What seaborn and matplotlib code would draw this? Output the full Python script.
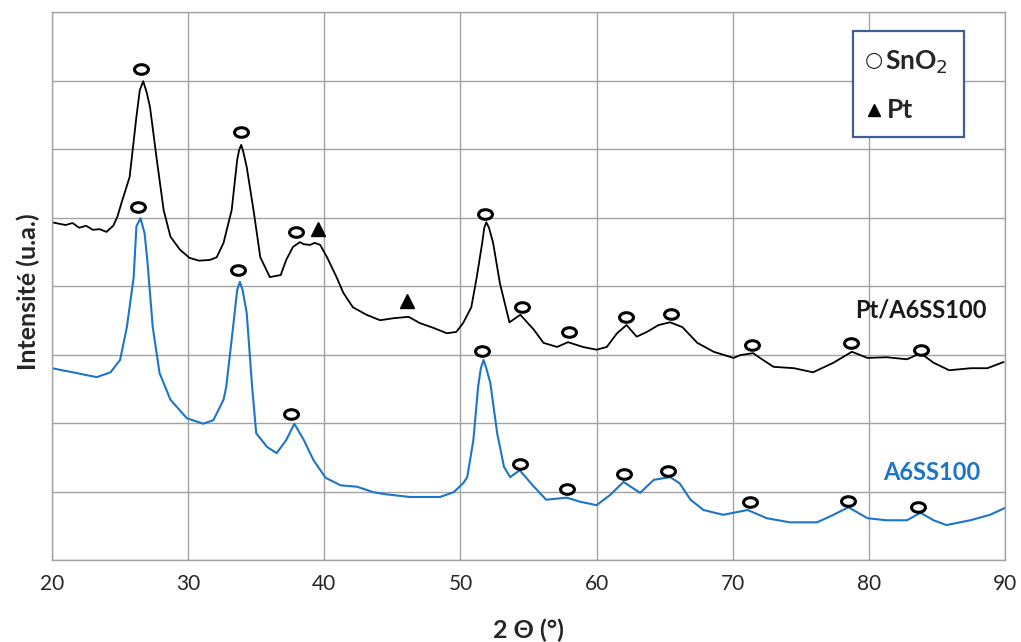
import matplotlib
matplotlib.use("Agg")
import matplotlib.pyplot as plt
import seaborn as sns
import pandas as pd
from matplotlib.path import Path
from matplotlib.markers import MarkerStyle
from matplotlib.transforms import Affine2D
from matplotlib.patches import Rectangle

# Pt/A6SS100 pattern (black)
pt_x = [20.0, 20.5, 21.0, 21.5, 22.0, 22.5, 23.0, 23.5, 24.0, 24.5, 24.8, 25.1, 25.7, 26.2,
        26.45, 26.7, 26.95, 27.2, 27.7, 28.2, 28.7, 29.4, 30.1, 30.8, 31.6, 32.1, 32.6, 33.2,
        33.6, 33.75, 33.9, 34.05, 34.3, 34.8, 35.3, 36.0, 36.8, 37.2, 37.7, 38.2, 38.5, 38.96,
        39.3, 39.7, 40.2, 40.9, 41.4, 42.1, 43.1, 44.1, 45.1, 46.2, 47.0, 48.0, 49.0, 49.7,
        50.2, 50.8, 51.2, 51.6, 51.75, 51.9, 52.1, 52.4, 52.9, 53.6, 54.4, 55.4, 56.1, 57.1,
        57.9, 59.0, 60.0, 60.75, 61.5, 62.2, 62.95, 63.7, 64.55, 65.4, 66.3, 67.4, 68.6,
        70.06, 70.55, 71.5, 72.0, 73.0, 74.5, 75.9, 77.4, 78.75, 79.9, 81.3, 82.8, 83.8,
        84.75, 85.9, 87.5, 88.7, 89.9]
pt_y = [4.93, 4.91, 4.89, 4.92, 4.85, 4.88, 4.82, 4.83, 4.79, 4.88, 5.01, 5.21, 5.59, 6.47,
        6.86, 6.99, 6.83, 6.61, 5.84, 5.11, 4.72, 4.53, 4.41, 4.37, 4.38, 4.42, 4.63, 5.11,
        5.84, 5.99, 6.06, 5.96, 5.74, 5.11, 4.42, 4.13, 4.16, 4.38, 4.57, 4.64, 4.61, 4.60,
        4.63, 4.60, 4.42, 4.13, 3.90, 3.69, 3.58, 3.50, 3.53, 3.55, 3.46, 3.39, 3.31, 3.33,
        3.46, 3.69, 4.13, 4.63, 4.85, 4.93, 4.85, 4.63, 4.04, 3.47, 3.58, 3.36, 3.17, 3.11,
        3.18, 3.11, 3.07, 3.11, 3.31, 3.43, 3.26, 3.33, 3.43, 3.47, 3.40, 3.17, 3.04,
        2.95, 2.99, 3.02, 2.95, 2.82, 2.80, 2.74, 2.88, 3.04, 2.95, 2.96, 2.93, 3.02,
        2.88, 2.77, 2.80, 2.80, 2.89]

# A6SS100 pattern (blue)
a6_x = [20.0, 21.0, 21.8, 22.5, 23.3, 24.3, 25.0, 25.5, 26.0, 26.2, 26.5, 26.8, 27.0, 27.4,
        27.9, 28.7, 29.9, 31.1, 31.85, 32.6, 32.8, 33.3, 33.6, 33.8, 34.0, 34.3, 34.7, 35.0,
        35.8, 36.5, 37.2, 37.8, 38.5, 39.2, 40.1, 41.2, 42.4, 43.6, 44.5, 46.3, 48.5, 49.5,
        50.2, 50.5, 50.95, 51.3, 51.5, 51.7, 51.9, 52.2, 52.7, 53.2, 53.65, 54.35, 55.4, 56.3,
        57.8, 58.8, 60.0, 61.0, 61.98, 63.2, 64.2, 65.4, 66.1, 66.9, 67.85, 69.3, 71.1, 72.5,
        74.2, 76.2, 77.4, 78.5, 79.9, 81.3, 82.8, 83.8, 84.75, 85.7, 87.45, 88.9, 90.0]
a6_y = [2.80, 2.76, 2.73, 2.70, 2.67, 2.74, 2.92, 3.40, 4.13, 4.87, 4.99, 4.77, 4.38, 3.40,
        2.73, 2.34, 2.07, 1.99, 2.04, 2.34, 2.53, 3.40, 3.94, 4.06, 3.94, 3.61, 2.53, 1.85,
        1.65, 1.56, 1.75, 1.99, 1.75, 1.46, 1.20, 1.09, 1.07, 0.99, 0.96, 0.92, 0.92, 0.99,
        1.12, 1.21, 1.75, 2.53, 2.80, 2.92, 2.80, 2.58, 1.85, 1.36, 1.21, 1.31, 1.07, 0.88,
        0.91, 0.85, 0.80, 0.95, 1.14, 0.98, 1.17, 1.21, 1.12, 0.88, 0.73, 0.66, 0.73, 0.61,
        0.55, 0.55, 0.66, 0.77, 0.61, 0.58, 0.58, 0.69, 0.58, 0.51, 0.58, 0.66, 0.76]

# peak markers
pt_sno2_x = [26.54, 33.89, 37.93, 51.82, 54.53, 57.99, 62.18, 65.48, 71.43, 78.71, 83.85]
pt_sno2_y = [7.17, 6.25, 4.79, 5.05, 3.69, 3.33, 3.55, 3.59, 3.14, 3.17, 3.07]
pt_pt_x = [39.54, 46.08]
pt_pt_y = [4.83, 3.78]
a6_sno2_x = [26.32, 33.67, 37.56, 51.59, 54.39, 57.84, 62.03, 65.26, 71.29, 78.49, 83.63]
a6_sno2_y = [5.15, 4.23, 2.13, 3.05, 1.40, 1.04, 1.26, 1.30, 0.85, 0.86, 0.77]

x_ticks = [20, 30, 40, 50, 60, 70, 80, 90]

blue = "#1c75c9"
grid_col = "#a3a3a3"

sns.set_style("whitegrid")
plt.rcParams["font.family"] = ["Lato", "DejaVu Sans"]

fig = plt.figure(figsize=(10.21, 6.42), dpi=100)
ax = fig.add_axes([52 / 1021, 82 / 642, 953 / 1021, 548 / 642])

pt_df = pd.DataFrame({"x": pt_x, "y": pt_y})
a6_df = pd.DataFrame({"x": a6_x, "y": a6_y})
sns.lineplot(data=pt_df, x="x", y="y", sort=False, color="black", lw=1.3, ax=ax)
sns.lineplot(data=a6_df, x="x", y="y", sort=False, color=blue, lw=1.5, ax=ax)

# open ellipse marker like in the original
ell = MarkerStyle(Path.unit_circle().transformed(Affine2D().scale(1.45, 1.0)))
ax.plot(pt_sno2_x, pt_sno2_y, ls="none", marker=ell, ms=10, mfc="white", mec="black", mew=2.2)
ax.plot(a6_sno2_x, a6_sno2_y, ls="none", marker=ell, ms=10, mfc="white", mec="black", mew=2.2)
ax.plot(pt_pt_x, pt_pt_y, ls="none", marker="^", ms=10, color="black")

ax.text(83.85, 3.65, "Pt/A6SS100", fontsize=17, fontweight="bold", color="#1a1a1a",
        ha="center", va="center")
ax.text(84.6, 1.28, "A6SS100", fontsize=17, fontweight="bold", color=blue,
        ha="center", va="center")

# legend box
ax.add_patch(Rectangle((78.85, 6.18), 8.15, 1.54, fill=True, facecolor="white",
                       edgecolor="#3d5f92", lw=1.6, zorder=5))
ax.text(80.4, 7.30, "○", fontsize=15, ha="center", va="center", zorder=6,
        family=["DejaVu Sans"])
ax.text(81.15, 7.27, "SnO$_2$", fontsize=19, fontweight="bold", ha="left", va="center", zorder=6)
ax.plot([80.4], [6.57], ls="none", marker="^", ms=9, color="black", zorder=6)
ax.text(81.3, 6.57, "Pt", fontsize=19, fontweight="bold", ha="left", va="center", zorder=6)

ax.set_xlim(20, 90)
ax.set_ylim(0, 8)
ax.set_xticks(x_ticks)
ax.set_yticks(range(0, 9))
ax.set_yticklabels([])
ax.tick_params(axis="both", length=0, labelsize=15, pad=10)
ax.grid(True, color=grid_col, lw=1)
for s in ax.spines.values():
    s.set_color(grid_col)
    s.set_linewidth(1)

ax.set_xlabel("2 Θ (°)", fontsize=18, fontweight="bold", labelpad=18)
ax.set_ylabel("Intensité (u.a.)", fontsize=18, fontweight="bold", va="center")
ax.yaxis.set_label_coords(-0.025, 0.49)

fig.savefig("out.png", dpi=100)
